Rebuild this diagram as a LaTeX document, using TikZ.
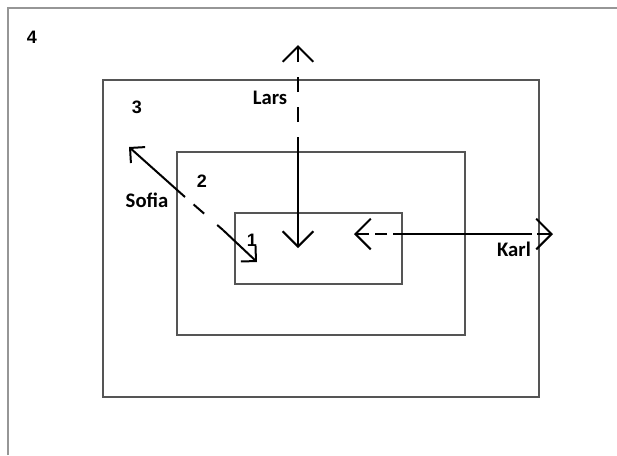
\documentclass[tikz,border=0pt]{standalone}
\usepackage{fontspec}
\setmainfont{Liberation Sans}
\newfontfamily\namefont{Carlito}
\usetikzlibrary{arrows.meta}
\definecolor{boxgray}{RGB}{85,85,85}
\definecolor{framegray}{RGB}{150,150,150}
\tikzset{
  boxline/.style={draw=boxgray, line width=0.8pt},
  frameline/.style={draw=framegray, line width=0.9pt},
  regbox/.style={boxline, rectangle, inner sep=0pt, outer sep=0pt},
  digitlabel/.style={font=\fontsize{13.5}{16}\selectfont\bfseries, inner sep=0pt},
  personlabel/.style={font=\namefont\fontsize{15.5}{18}\selectfont\bfseries, inner sep=0pt},
  vtip/.style={-{Straight Barb[length=11.5pt,width=23pt,line width=1.5pt]}},
  stip/.style={-{Straight Barb[length=8pt,width=16pt,line width=1.5pt]}},
  arrowline/.style={line width=1.5pt, black},
}
\begin{document}
\begin{tikzpicture}[x=0.75pt,y=-0.75pt]
\useasboundingbox (0,0) rectangle (617,455);
% outer region 4 (open frame)
\coordinate (f1) at (8,455);
\coordinate (f2) at (8,8);
\coordinate (f3) at (617,8);
\draw[frameline] (f1) -- (f2) -- (f3);
% regions
\node[regbox, minimum width=327pt, minimum height=237.75pt] (box3) at (321,238.5) {};
\node[regbox, minimum width=216pt, minimum height=137.25pt] (box2) at (321,243.5) {};
\node[regbox, minimum width=125.25pt, minimum height=53.25pt] (box1) at (318.5,248.5) {};
% labels
\node[digitlabel] (l4) at (32,37) {4};
\node[digitlabel] (l3) at (137,107) {3};
\node[digitlabel] (l2) at (202,181) {2};
\node[digitlabel] (l1) at (252,240) {1};
\node[personlabel] (lars) at (270,98) {Lars};
\node[personlabel] (sofia) at (147,200) {Sofia};
\node[personlabel] (karl) at (514,249) {Karl};
% Lars
\coordinate (la0) at (298,137);
\coordinate (laUp) at (298,45);
\coordinate (laDn) at (298,248);
\draw[arrowline, vtip, dash pattern=on 11.25pt off 11.25pt, dash phase=11.25pt] (la0) -- (laUp);
\draw[arrowline, vtip] (la0) -- (laDn);
% Karl
\coordinate (ka0) at (395,234);
\coordinate (ka1) at (522,234);
\coordinate (kaL) at (354,234);
\coordinate (kaR) at (553,234);
\draw[arrowline, vtip, dash pattern=on 9pt off 4.5pt, dash phase=7.5pt] (ka0) -- (kaL);
\draw[arrowline] (ka0) -- (ka1);
\draw[arrowline, vtip, dash pattern=on 11.25pt off 4pt, dash phase=3.75pt] (ka1) -- (kaR);
% Sofia
\coordinate (so0) at (185,197);
\coordinate (soUp) at (129,147);
\coordinate (soDn) at (257,262);
\coordinate (so1) at (223,230);
\draw[arrowline, stip] (so0) -- (soUp);
\draw[arrowline, dash pattern=on 10.5pt off 13pt, dash phase=15pt] (so0) -- (so1);
\draw[arrowline, stip] (so1) -- (soDn);
\end{tikzpicture}
\end{document}
